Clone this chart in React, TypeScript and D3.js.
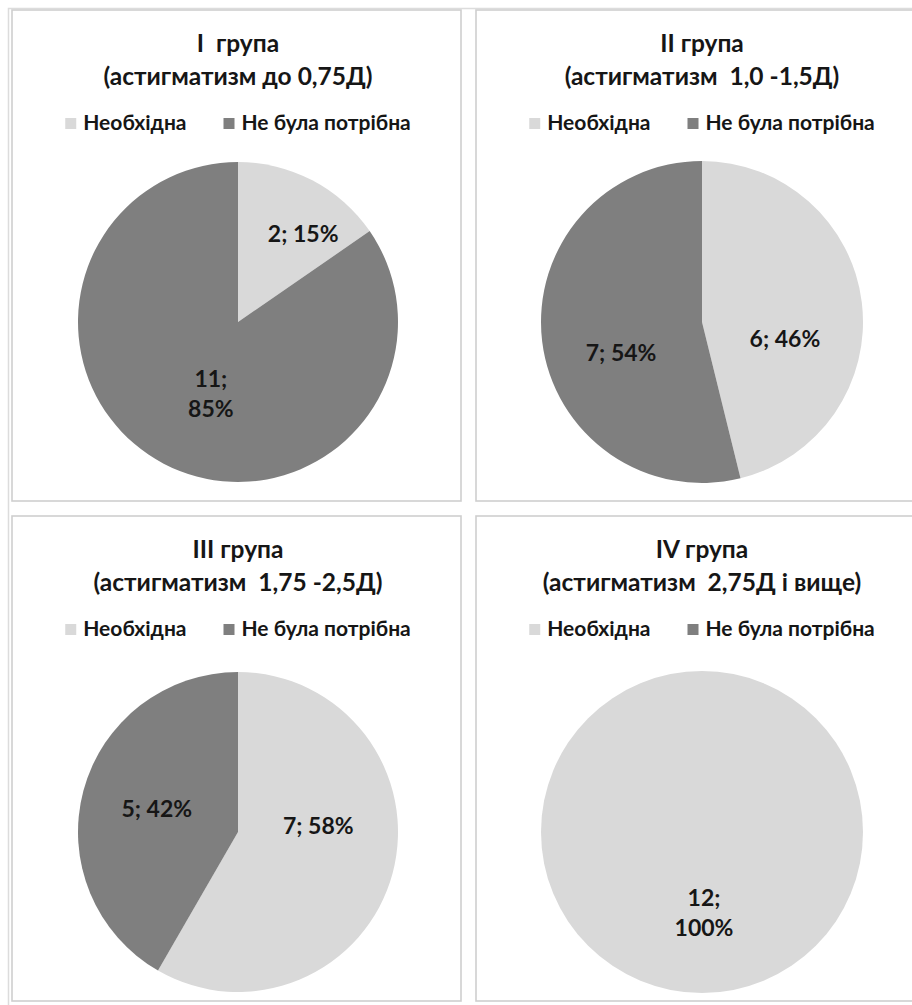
import React, { useEffect, useRef } from "react";
import * as d3 from "d3";

// Survey groups by degree of astigmatism
const groupTitles = ["I  група", "II група", "III група", "IV група"];
const groupSubtitles = [
  "(астигматизм до 0,75Д)",
  "(астигматизм  1,0 -1,5Д)",
  "(астигматизм  1,75 -2,5Д)",
  "(астигматизм  2,75Д і вище)",
];
const categories = ["Необхідна", "Не була потрібна"];
const requiredCounts = [2, 6, 7, 12];
const notRequiredCounts = [11, 7, 5, 0];

// Presentation
const WIDTH = 912;
const HEIGHT = 1005;
const COLORS = ["#d9d9d9", "#7f7f7f"];
const FONT = "Lato, 'Open Sans', 'DejaVu Sans', sans-serif";
const TEXT = "#161616";
const BORDER = "#cfcfcf";

// Panel frames and pie geometry
const panels = [
  { x: 12, y: 10, w: 449, h: 491, cx: 238, cy: 322, r: 160 },
  { x: 476, y: 10, w: 450, h: 491, cx: 702, cy: 322, r: 161 },
  { x: 12, y: 516, w: 449, h: 485, cx: 238, cy: 832, r: 160 },
  { x: 476, y: 516, w: 450, h: 485, cx: 702, cy: 832, r: 161 },
];
// Label nudges relative to the half-radius centroid, and whether a label wraps
const labelShift = [
  [[28, -17], [10, 1]],
  [[3, 27], [-1, 21]],
  [[3, -27], [-4, -2]],
  [[2, 0], [0, 0]],
];
const labelWrap = [
  [false, true],
  [false, false],
  [false, false],
  [true, false],
];

export default function App() {
  const ref = useRef<SVGSVGElement | null>(null);

  useEffect(() => {
    const svg = d3.select(ref.current);
    svg.selectAll("*").remove();

    svg.append("rect").attr("width", WIDTH).attr("height", HEIGHT).attr("fill", "#ffffff");
    // outer frame line on the left and top
    svg
      .append("path")
      .attr("d", "M8.5,1005 L8.5,8.5 L912,8.5")
      .attr("fill", "none")
      .attr("stroke", "#dcdcdc")
      .attr("stroke-width", 1.5);

    const pie = d3.pie<number>().sort(null).value((d) => d);

    groupTitles.forEach((title, gi) => {
      const p = panels[gi];
      const values = [requiredCounts[gi], notRequiredCounts[gi]];
      const total = d3.sum(values);
      const g = svg.append("g");

      g.append("rect")
        .attr("x", p.x)
        .attr("y", p.y)
        .attr("width", p.w)
        .attr("height", p.h)
        .attr("fill", "#ffffff")
        .attr("stroke", BORDER)
        .attr("stroke-width", 1.6);

      const midX = p.cx;
      g.append("text")
        .attr("x", midX)
        .attr("y", p.y + 42)
        .attr("text-anchor", "middle")
        .attr("font-family", FONT)
        .attr("font-weight", 700)
        .attr("font-size", 24.5)
        .attr("fill", TEXT)
        .style("white-space", "pre")
        .text(title);
      g.append("text")
        .attr("x", midX)
        .attr("y", p.y + 75)
        .attr("text-anchor", "middle")
        .attr("font-family", FONT)
        .attr("font-weight", 700)
        .attr("font-size", 24.5)
        .attr("fill", TEXT)
        .style("white-space", "pre")
        .text(groupSubtitles[gi]);

      // legend, centred under the title
      const legend = g.append("g");
      const items = categories.map((c, ci) => {
        const item = legend.append("g");
        item.append("rect").attr("width", 11).attr("height", 11).attr("y", -12).attr("fill", COLORS[ci]);
        const t = item
          .append("text")
          .attr("x", 18)
          .attr("font-family", FONT)
          .attr("font-weight", 700)
          .attr("font-size", 21)
          .attr("fill", TEXT)
          .text(c);
        const w = (t.node() as SVGTextElement).getComputedTextLength();
        return { item, w: 18 + w };
      });
      const gap = 37;
      const totalW = d3.sum(items, (d) => d.w) + gap;
      let lx = midX - totalW / 2;
      items.forEach((it) => {
        it.item.attr("transform", `translate(${lx},${p.y + 120})`);
        lx += it.w + gap;
      });

      // pie slices
      const arcs = pie(values);
      const arc = d3.arc<d3.PieArcDatum<number>>().innerRadius(0).outerRadius(p.r);
      const labelArc = d3
        .arc<d3.PieArcDatum<number>>()
        .innerRadius(p.r * 0.5)
        .outerRadius(p.r * 0.5);
      const pg = g.append("g").attr("transform", `translate(${p.cx},${p.cy})`);
      pg.selectAll("path.slice")
        .data(arcs.filter((a) => a.value > 0))
        .join("path")
        .attr("class", "slice")
        .attr("d", arc)
        .attr("fill", (d) => COLORS[d.index]);

      arcs.forEach((a) => {
        if (a.value <= 0) return;
        const [cx, cy] = labelArc.centroid(a);
        const [dx, dy] = labelShift[gi][a.index];
        const pct = Math.round((a.value / total) * 100);
        const lines = labelWrap[gi][a.index]
          ? [`${a.value};`, `${pct}%`]
          : [`${a.value}; ${pct}%`];
        const lh = 30;
        const t = pg
          .append("text")
          .attr("text-anchor", "middle")
          .attr("font-family", FONT)
          .attr("font-weight", 700)
          .attr("font-size", 23)
          .attr("fill", TEXT);
        lines.forEach((ln, li) => {
          t.append("tspan")
            .attr("x", cx + dx)
            .attr("y", cy + dy + (li - (lines.length - 1) / 2) * lh)
            .attr("dy", "0.35em")
            .text(ln);
        });
      });
    });
  }, []);

  return (
    <div style={{ position: "absolute", left: 0, top: 0 }}>
      <svg ref={ref} width={WIDTH} height={HEIGHT} style={{ display: "block" }} />
    </div>
  );
}
